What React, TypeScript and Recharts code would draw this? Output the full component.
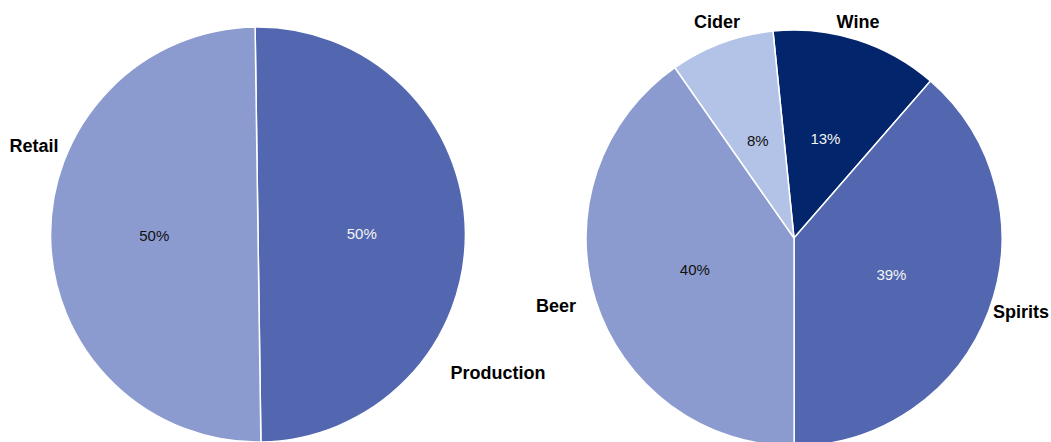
import { PieChart, Pie, Cell } from "recharts";

// left pie: activity split
const activityNames = ["Production", "Retail"];
const activityValues = [50, 50];

// right pie: drink type split (clockwise from just left of 12 o'clock)
const drinkNames = ["Wine", "Spirits", "Beer", "Cider"];
const drinkValues = [13.0, 38.6, 40.3, 8.1];

const activityData = activityNames.map((name, i) => ({ name, value: activityValues[i] }));
const drinkData = drinkNames.map((name, i) => ({ name, value: drinkValues[i] }));

const activityColors = ["#5267B0", "#8B9BCF"];
const drinkColors = ["#03256C", "#5267B0", "#8B9BCF", "#B3C3E7"];
// slices whose percentage is printed in white
const activityWhite = [true, false];
const drinkWhite = [true, true, false, false];

// where the category names sit, relative to the pie centre
const activityNameOffsets = [[240, 138], [-224, -89]];
const drinkNameOffsets = [[64, -216], [227, 74], [-238, 68], [-77, -216]];

const RADIAN = Math.PI / 180;
const FONT = "'Liberation Sans', Arial, Helvetica, sans-serif";

function makeLabel(offsets: number[][], white: boolean[]) {
  // eslint-disable-next-line @typescript-eslint/no-explicit-any
  return function PieLabel(props: any) {
    const { cx, cy, midAngle, outerRadius, percent, index, name } = props;
    const r = outerRadius * 0.5;
    const x = cx + r * Math.cos(-midAngle * RADIAN);
    const y = cy + r * Math.sin(-midAngle * RADIAN);
    const [dx, dy] = offsets[index];
    return (
      <g>
        <text
          x={x}
          y={y}
          textAnchor="middle"
          dominantBaseline="central"
          fontFamily={FONT}
          fontSize={15}
          fill={white[index] ? "#F4F4F4" : "#111"}
        >
          {`${Math.round(percent * 100)}%`}
        </text>
        <text
          x={cx + dx}
          y={cy + dy}
          textAnchor="middle"
          dominantBaseline="central"
          fontFamily={FONT}
          fontSize={18}
          fontWeight="bold"
          fill="#000"
        >
          {name}
        </text>
      </g>
    );
  };
}

export default function App() {
  return (
    <div style={{ width: 1051, height: 442, background: "#fff" }}>
      <style>{"body{margin:0;}"}</style>
      <PieChart width={1051} height={442} margin={{ top: 0, right: 0, bottom: 0, left: 0 }}>
        <Pie
          data={activityData}
          dataKey="value"
          nameKey="name"
          cx={258}
          cy={234.5}
          outerRadius={207.5}
          startAngle={90.8}
          endAngle={-269.2}
          stroke="#fff"
          strokeWidth={1.5}
          labelLine={false}
          label={makeLabel(activityNameOffsets, activityWhite)}
          isAnimationActive={false}
        >
          {activityData.map((d, i) => (
            <Cell key={d.name} fill={activityColors[i]} />
          ))}
        </Pie>
        <Pie
          data={drinkData}
          dataKey="value"
          nameKey="name"
          cx={794}
          cy={238}
          outerRadius={208}
          startAngle={95.8}
          endAngle={-264.2}
          stroke="#fff"
          strokeWidth={1.5}
          labelLine={false}
          label={makeLabel(drinkNameOffsets, drinkWhite)}
          isAnimationActive={false}
        >
          {drinkData.map((d, i) => (
            <Cell key={d.name} fill={drinkColors[i]} />
          ))}
        </Pie>
      </PieChart>
    </div>
  );
}
